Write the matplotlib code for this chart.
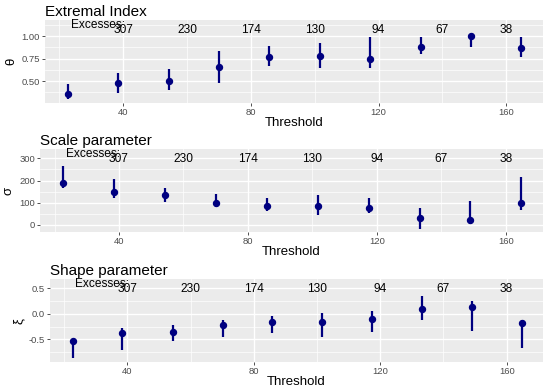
import matplotlib
matplotlib.use("Agg")
import matplotlib.pyplot as plt
import matplotlib.transforms as mtransforms
from matplotlib.ticker import FixedLocator

plt.rcParams['font.family'] = ['Liberation Sans', 'DejaVu Sans']

threshold = [22.7, 38.4, 54.3, 70.1, 85.8, 101.6, 117.4, 133.2, 148.9, 164.7]

theta = [0.356, 0.474, 0.503, 0.660, 0.763, 0.778, 0.741, 0.881, 1.000, 0.870]
theta_lo = [0.297, 0.370, 0.400, 0.480, 0.667, 0.648, 0.641, 0.797, 0.881, 0.770]
theta_hi = [0.467, 0.592, 0.630, 0.833, 0.890, 0.918, 0.993, 0.993, 1.000, 0.993]

sigma = [190, 147, 137, 100, 86, 85, 75, 33, 22, 100]
sigma_lo = [165, 120, 105, 82, 64, 45, 53, -19, 4, 67]
sigma_hi = [266, 206, 165, 138, 122, 134, 120, 75, 110, 217]

xi = [-0.532, -0.383, -0.350, -0.220, -0.158, -0.158, -0.106, 0.087, 0.130, -0.190]
xi_lo = [-0.870, -0.706, -0.530, -0.460, -0.380, -0.450, -0.350, -0.113, -0.330, -0.670]
xi_hi = [-0.490, -0.270, -0.220, -0.126, -0.040, 0.016, 0.055, 0.358, 0.260, -0.126]

exc_x = [40, 60, 80, 100, 120, 140, 160]
exc_labels = ["307", "230", "174", "130", "94", "67", "38"]
exc_title_x = 32

W, H = 550, 387
fig = plt.figure(figsize=(W / 100, H / 100), dpi=100)

NAVY = "#000080"
panels = [
    dict(rect=(45, 20, 543, 103), title="Extremal Index", ylab="θ",
         y=theta, lo=theta_lo, hi=theta_hi, ylim=(0.256, 1.178),
         major=[0.50, 0.75, 1.00], minor=[0.375, 0.625, 0.875, 1.125],
         fmt="{:.2f}"),
    dict(rect=(40, 149, 543, 232.3), title="Scale parameter", ylab="σ",
         y=sigma, lo=sigma_lo, hi=sigma_hi, ylim=(-33, 342),
         major=[0, 100, 200, 300], minor=[50, 150, 250],
         fmt="{:.0f}"),
    dict(rect=(50, 279, 543, 362.3), title="Shape parameter", ylab="ξ",
         y=xi, lo=xi_lo, hi=xi_hi, ylim=(-0.951, 0.682),
         major=[-0.5, 0.0, 0.5], minor=[-0.75, -0.25, 0.25],
         fmt="{:.1f}"),
]

for p in panels:
    l, t, r, b = p["rect"]
    ax = fig.add_axes([l / W, 1 - b / H, (r - l) / W, (b - t) / H])
    ax.set_facecolor("#EBEBEB")
    for s in ax.spines.values():
        s.set_visible(False)
    ax.set_xlim(15.5, 171.5)
    ax.set_ylim(*p["ylim"])
    ax.xaxis.set_major_locator(FixedLocator([40, 80, 120, 160]))
    ax.xaxis.set_minor_locator(FixedLocator([20, 60, 100, 140]))
    ax.yaxis.set_major_locator(FixedLocator(p["major"]))
    ax.yaxis.set_minor_locator(FixedLocator(p["minor"]))
    ax.set_yticklabels([p["fmt"].format(v) for v in p["major"]])
    ax.grid(which="major", color="white", linewidth=1.0)
    ax.grid(which="minor", color="white", linewidth=0.5)
    ax.set_axisbelow(True)
    ax.tick_params(which="major", length=2.5, width=0.6, color="#333333",
                   labelsize=6.8, labelcolor="#4D4D4D", pad=1.2)
    ax.tick_params(which="minor", length=0)

    for xv, lo, hi in zip(threshold, p["lo"], p["hi"]):
        ax.plot([xv, xv], [lo, hi], color=NAVY, linewidth=1.6,
                solid_capstyle="butt", zorder=3)
    ax.plot(threshold, p["y"], "o", color=NAVY, markersize=4.3, zorder=4)

    trans = mtransforms.blended_transform_factory(ax.transData, ax.transAxes)
    for xv, lab in zip(exc_x, exc_labels):
        ax.text(xv, 0.876, lab, transform=trans, ha="center", va="center",
                fontsize=8.6, color="black")
    ax.text(exc_title_x, 0.945, "Excesses:", transform=trans, ha="center",
            va="center", fontsize=8.6, color="black")

    ax.set_title(p["title"], loc="left", fontsize=11, pad=3, color="black")
    ax.set_xlabel("Threshold", fontsize=9.5, labelpad=0, color="black")
    ax.set_ylabel(p["ylab"], fontsize=9.5, labelpad=3, color="black")

fig.savefig("out.png", dpi=100)
